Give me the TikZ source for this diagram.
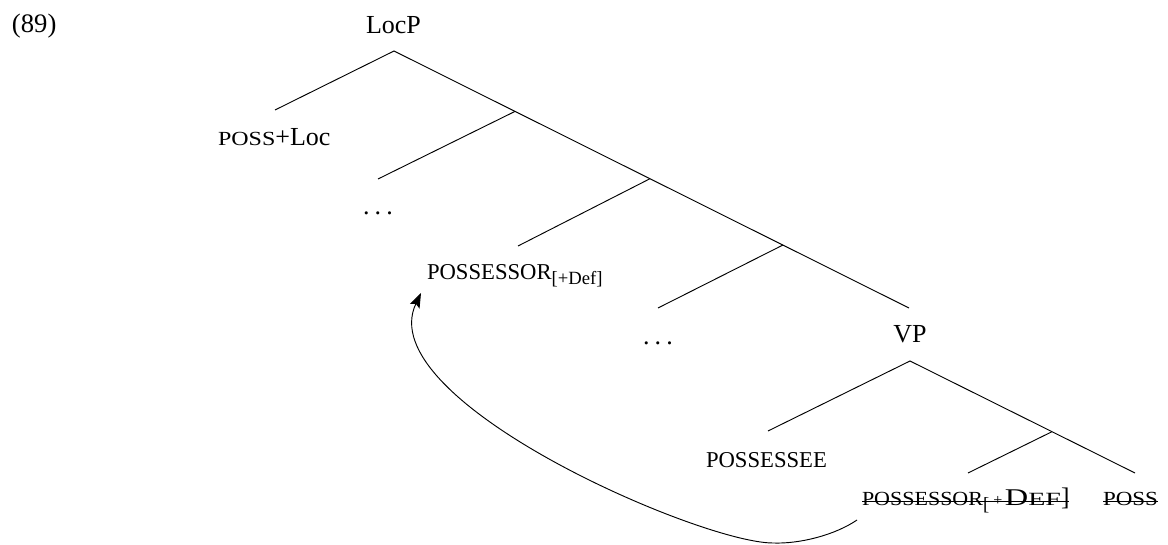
\documentclass[tikz,border=0pt]{standalone}
\usepackage{fontspec}
\setmainfont{Liberation Serif}
\usetikzlibrary{arrows.meta}
\newcommand\fsz[1]{\fontsize{#1}{#1}\selectfont}
\newcommand\fakesc[3][1.2]{\scalebox{#1}[1]{\fsz{#2}#3}}
\begin{document}
\begin{tikzpicture}[x=0.75pt,y=-0.75pt,
  lbl/.style={inner sep=0pt,outer sep=0pt,anchor=base west,font=\fsz{19.5}},
  edge/.style={line width=0.7pt,black}]
\useasboundingbox (0,0) rectangle (1168,545);
% labels
\node[lbl,font=\fsz{20}] (ex) at (12,33) {(89)};
\node[lbl,anchor=base] (locp) at (393.5,34) {LocP};
\node[lbl] (possloc) at (218,146) {\fakesc{15}{POSS}+Loc};
\node[lbl] (dotsa) at (363,215) {.\hspace{0.2em}.\hspace{0.2em}.};
\node[lbl,font=\fsz{17}] (possor) at (427,280) {POSSESSOR\raisebox{-3.75pt}{\fsz{14}[+Def]}};
\node[lbl] (dotsb) at (643,345) {.\hspace{0.2em}.\hspace{0.2em}.};
\node[lbl,anchor=base] (vp) at (910,343) {VP};
\node[lbl,font=\fsz{17}] (posee) at (706,467) {POSSESSEE};
\node[lbl] (trace) at (862,505) {\fakesc[1.1]{15}{POSSESSOR}\raisebox{-4pt}{\fsz{14}[}\hspace{3pt}{\fsz{12}+}\hspace{2pt}\scalebox{1.35}[1]{\fsz{18}D}\fakesc[1.5]{14}{EF}{\fsz{19}]}};
\node[lbl] (poss) at (1103,505) {\fakesc[1.15]{15}{POSS}};
% strike-through
\draw[edge] ([yshift=3pt]trace.base west) -- ([yshift=3pt]trace.base east);
\draw[edge] ([yshift=3pt]poss.base west) -- ([yshift=3pt]poss.base east);
% tree points
\coordinate (t0) at (394,51);
\coordinate (a1) at (275,110);
\coordinate (b1) at (515,111.4);
\coordinate (b1l) at (378,179);
\coordinate (b2) at (650,178.7);
\coordinate (b2l) at (518,246);
\coordinate (b3) at (783,245);
\coordinate (b3l) at (658,308);
\coordinate (tend) at (909,308);
\coordinate (v0) at (910,361);
\coordinate (vl) at (768,431);
\coordinate (vr) at (1135,473);
\coordinate (v1) at (1052,431.7);
\coordinate (v1l) at (968,473);
\draw[edge] (a1) -- (t0) -- (tend);
\draw[edge] (b1) -- (b1l);
\draw[edge] (b2) -- (b2l);
\draw[edge] (b3) -- (b3l);
\draw[edge] (vl) -- (v0) -- (vr);
\draw[edge] (v1) -- (v1l);
% movement arrow
\coordinate (cs) at (857,520);
\coordinate (cb) at (773,543);
\coordinate (ce) at (421,293);
\draw[edge,-{Stealth[length=11pt,width=8pt,inset=2pt]}] (cs) .. controls (835,535) and (800,544) .. (cb)
  .. controls (700,543) and (370,400) .. (ce);
\end{tikzpicture}
\end{document}
